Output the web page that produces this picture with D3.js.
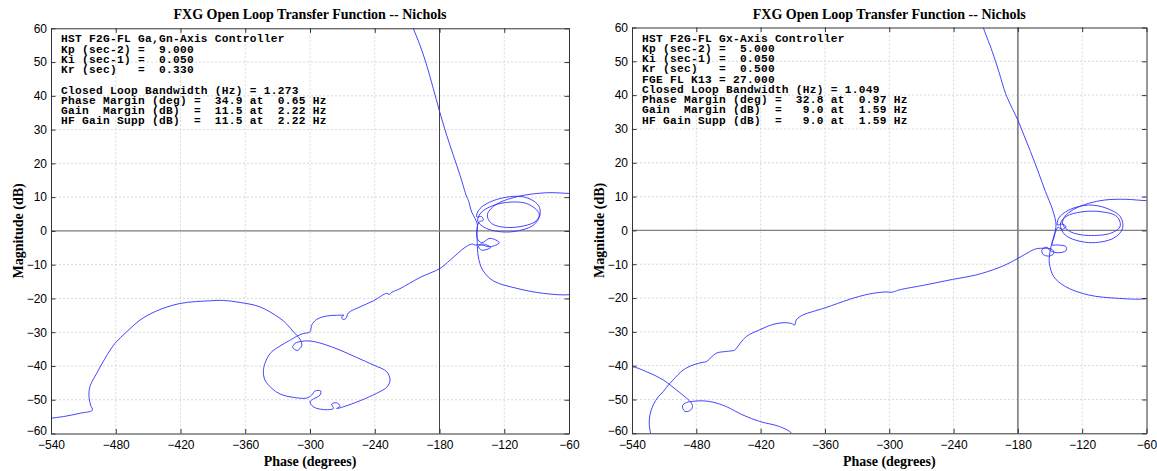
<!DOCTYPE html>
<html>
<head>
<meta charset="utf-8">
<script src="https://cdn.jsdelivr.net/npm/d3@7"></script>
<style>
  body { margin: 0; background: #fff; }
  .ticklabel text { font-family: "Liberation Sans", Arial, sans-serif; font-size: 12px; fill: #000; }
  .title { font-family: "Liberation Serif", "Times New Roman", serif; font-weight: bold; font-size: 14px; fill: #000; }
  .info { font-family: "Liberation Mono", "Courier New", monospace; font-weight: bold; font-size: 11.2px; letter-spacing: 0.28px; fill: #000; white-space: pre; }
</style>
</head>
<body>
<script>

// tick values shared by both plots
var phaseTicks = [-540, -480, -420, -360, -300, -240, -180, -120, -60];
var magTicks = [-60, -50, -40, -30, -20, -10, 0, 10, 20, 30, 40, 50, 60];

var chartTitle = "FXG Open Loop Transfer Function -- Nichols";
var xTitle = "Phase (degrees)";
var yTitle = "Magnitude (dB)";

// text block in the left plot
var leftInfo = [
  "HST F2G-FL Ga,Gn-Axis Controller",
  "Kp (sec-2) =  9.000",
  "Ki (sec-1) =  0.050",
  "Kr (sec)   =  0.330",
  "",
  "Closed Loop Bandwidth (Hz) = 1.273",
  "Phase Margin (deg) =  34.9 at  0.65 Hz",
  "Gain  Margin (dB)  =  11.5 at  2.22 Hz",
  "HF Gain Supp (dB)  =  11.5 at  2.22 Hz"
];

// text block in the right plot
var rightInfo = [
  "HST F2G-FL Gx-Axis Controller",
  "Kp (sec-2) =  5.000",
  "Ki (sec-1) =  0.050",
  "Kr (sec)   =  0.500",
  "FGE FL K13 = 27.000",
  "Closed Loop Bandwidth (Hz) = 1.049",
  "Phase Margin (deg) =  32.8 at  0.97 Hz",
  "Gain  Margin (dB)  =   9.0 at  1.59 Hz",
  "HF Gain Supp (dB)  =   9.0 at  1.59 Hz"
];

// [phase (deg), magnitude (dB)]
var leftCurve = [
  [-206.5, 62], [-204.8, 60.4], [-198.1, 55], [-191.9, 49.1], [-185.8, 42.2], [-180.2, 35.7],
  [-173.3, 28.3], [-167.2, 22.4], [-161.0, 16.5], [-154.8, 10.1], [-153.3, 9.1], [-150.2, 5.6],
  [-147.1, 3.7], [-145.0, 2.0],
  [-145.2, -0.8], [-145.0, -3.7], [-144.0, -7.7], [-140.0, -11.6], [-130.1, -14.8], [-108.5, -17.0],
  [-83.8, -18.5], [-59.1, -18.9],
  [-45, -18], [-35, -12], [-30, 0], [-38, 9], [-50, 11.2],
  [-59.1, 11.1], [-80.7, 11.3], [-108.5, 10.1], [-128.6, 7.6], [-135.7, 4.7], [-131.7, 2.2],
  [-114.7, 1.0], [-91.5, 2.7], [-87.5, 5.0], [-99.2, 8.1], [-124.0, 8.1], [-140.9, 5.6],
  [-144.6, 3.0], [-136.3, 0.7], [-114.7, -0.3], [-93.0, 1.7], [-86.9, 4.7], [-88.4, 7.6],
  [-102.3, 10.1], [-127.0, 9.3], [-142.5, 6.6], [-145.6, 4.2], [-140.9, 4.2], [-139.4, 3.2],
  [-143.1, 2.7], [-145.0, 1.2], [-145.0, -2.2], [-140.9, -3.5], [-133.2, -2.2], [-124.6, -3.5],
  [-133.2, -4.7], [-140.9, -4.2], [-144.0, -4.5], [-140.9, -5.7], [-132.6, -4.9], [-139.4, -3.9],
  [-146.2, -4.2], [-150.2, -3.9], [-156.4, -4.9], [-170.3, -8.7], [-179.5, -11.1], [-198.1, -13.8],
  [-216.6, -17.1], [-224.3, -18.2], [-226.5, -18.8], [-229.0, -18.5], [-241.3, -20.7], [-253.6, -22.5],
  [-264.5, -24.3], [-266.6, -25.9], [-269.7, -26.2], [-270.6, -25.4], [-268.5, -25.0], [-275.3, -25.0],
  [-284.5, -25.2], [-293.8, -26.2], [-298.4, -27.9], [-300.0, -29.9], [-306.2, -30.4], [-312.3, -31.2],
  [-317.0, -32.1], [-326.2, -33.8], [-336.4, -36.1], [-341.7, -39.2], [-343.2, -41.7], [-341.7, -44.2],
  [-335.5, -46.6], [-327.8, -48.3], [-315.4, -49.3], [-303.1, -49.5], [-298.4, -48.6], [-295.3, -47.4],
  [-290.1, -47.4], [-290.7, -48.6], [-296.9, -49.8], [-300.0, -50.6], [-296.9, -52.1], [-287.6, -52.9],
  [-278.3, -52.6], [-279.9, -51.3], [-275.3, -50.9], [-272.2, -51.9], [-275.3, -52.6], [-269.1, -52.1],
  [-253.6, -50.3], [-238.2, -48.1], [-228.9, -46.3], [-225.8, -44.2], [-228.9, -41.7], [-241.3, -39.7],
  [-256.7, -37.5], [-272.2, -35.3], [-287.6, -33.5], [-300.0, -32.6], [-307.7, -32.7], [-313.9, -33.3],
  [-316.0, -34.5], [-311.7, -35.4], [-307.7, -34.0], [-309.2, -32.1], [-313.9, -30.4], [-321.6, -27.6],
  [-327.8, -25.9], [-346.3, -22.5], [-364.8, -21.2], [-380, -20.6], [-392.7, -20.7], [-420.5, -21.5],
  [-442.1, -23.7], [-457.5, -26.4], [-469.9, -29.9], [-480.7, -33.3], [-490.0, -37.8], [-497.7, -42.2],
  [-503.9, -46.1], [-504.8, -49.1], [-503.3, -51.6], [-501.7, -53.1], [-513.1, -54.0], [-528.6, -55.0],
  [-540.9, -55.5], [-550, -55.9]
];

// [phase (deg), magnitude (dB)]
var rightCurve = [
  [-213.5, 62], [-212.6, 60.4], [-203.9, 52.9], [-197.7, 46.9], [-191.5, 40.5], [-185.3, 36.1],
  [-180.0, 32.6], [-174.4, 28.2], [-168.2, 23.3], [-160.5, 16.9], [-154.3, 11.5], [-147.5, 6.0],
  [-144.4, 1.6],
  [-146.2, -1.4], [-148.7, -4.3], [-150.3, -6.8], [-150.6, -9.7], [-146.5, -13.7], [-135.7, -16.6],
  [-114.0, -19.1], [-86.1, -20.1], [-59.7, -20.2],
  [-45, -19], [-35, -12], [-30, 0], [-38, 7], [-50, 8.9],
  [-59.7, 8.8], [-79.9, 9.2], [-98.5, 9.0], [-114.0, 8.0], [-127.9, 6.2], [-136.3, 4.1],
  [-138.2, 1.9], [-131.0, -0.4], [-114.0, -1.5], [-92.3, -0.7], [-84.5, 1.3], [-87.6, 4.1],
  [-101.6, 5.5], [-120.2, 5.5], [-135.1, 4.1], [-140.3, 1.9], [-135.7, -1.4], [-114.0, -3.6],
  [-90.7, -2.3], [-82.3, 0.6], [-84.5, 4.1], [-96.9, 6.5], [-114.0, 7.5], [-132.6, 6.0],
  [-141.9, 3.6], [-143.1, 1.6], [-138.8, 1.9], [-135.1, 1.1], [-138.8, 0.3], [-142.5, 0.9],
  [-144.4, -0.1], [-146.5, -2.3], [-148.1, -4.3], [-143.4, -4.3], [-135.1, -4.8], [-135.1, -6.0],
  [-143.4, -6.6], [-150.6, -5.8], [-152.7, -5.0], [-157.4, -5.6], [-156.8, -7.0], [-151.2, -7.6],
  [-146.5, -6.8], [-148.1, -5.6], [-154.3, -5.3], [-163.6, -5.5], [-172.9, -7.0], [-185.3, -9.2],
  [-197.6, -11.0], [-219.3, -13.2], [-241.1, -14.5], [-265.9, -16.1], [-290.7, -17.6], [-295.3, -18.1],
  [-298.4, -18.3], [-303.1, -18.2], [-318.6, -18.8], [-337.2, -20.4], [-358.9, -22.8], [-371.3, -24.0],
  [-380.6, -25.0], [-386.8, -26.5], [-388.3, -28.0], [-391.4, -27.5], [-399.2, -27.3], [-408.5, -27.8],
  [-420.9, -29.4], [-433.4, -31.4], [-442.7, -34.9], [-444, -35.4], [-452.0, -35.8], [-461.3, -36.3],
  [-470.6, -38.8], [-473.7, -39.0], [-483.0, -39.8], [-492.3, -41.3], [-501.6, -44.2], [-507.8, -46.4],
  [-510.9, -47.7], [-515.5, -49.2], [-520.2, -51.6], [-523.3, -54.6], [-523.9, -57.5], [-522.7, -60.0],
  [-522, -62], [-535, -64], [-555, -55], [-552, -41],
  [-540.3, -40.3], [-526.4, -41.8], [-510.9, -44.2], [-498.5, -47.2], [-489.2, -49.6], [-484.5, -51.1],
  [-483.6, -52.3], [-486.1, -53.3], [-490.7, -53.5], [-492.9, -51.9], [-489.2, -50.9], [-481.4, -50.5],
  [-473.7, -50.4], [-464.4, -50.8], [-452.0, -52.1], [-436.5, -54.6], [-420.9, -56.5], [-402.4, -58.0],
  [-391, -60], [-389, -62]
];

var svg = d3.select("body")
            .append("svg")
            .attr("width", 1157)
            .attr("height", 471);

function drawnichols(id, curve, info, box)
{
  var x = d3.scaleLinear().domain([-540, -60]).range([box.left, box.right]);
  var y = d3.scaleLinear().domain([-60, 60]).range([box.bottom, box.top]);

  var g = svg.append("g").attr("class", "nichols-" + id);

  // clip the curve to the plot box
  svg.append("clipPath")
      .attr("id", "clip-" + id)
    .append("rect")
      .attr("x", box.left)
      .attr("y", box.top)
      .attr("width", box.right - box.left)
      .attr("height", box.bottom - box.top);

  // dotted grid
  g.append("g").selectAll("line")
      .data(phaseTicks.slice(1, -1))
    .enter().append("line")
      .attr("x1", function(d) { return x(d); })
      .attr("x2", function(d) { return x(d); })
      .attr("y1", box.top)
      .attr("y2", box.bottom)
      .style("stroke", "#cfcfcf")
      .style("stroke-width", 0.8)
      .style("stroke-dasharray", "2,2");

  g.append("g").selectAll("line")
      .data(magTicks.slice(1, -1))
    .enter().append("line")
      .attr("x1", box.left)
      .attr("x2", box.right)
      .attr("y1", function(d) { return y(d); })
      .attr("y2", function(d) { return y(d); })
      .style("stroke", "#cfcfcf")
      .style("stroke-width", 0.8)
      .style("stroke-dasharray", "2,2");

  // -180 deg / 0 dB reference lines
  g.append("line")
      .attr("x1", x(-180)).attr("x2", x(-180))
      .attr("y1", box.top).attr("y2", box.bottom)
      .style("stroke", box.vcolor)
      .style("stroke-width", box.vwidth);

  g.append("line")
      .attr("x1", box.left).attr("x2", box.right)
      .attr("y1", y(0)).attr("y2", y(0))
      .style("stroke", "#808080")
      .style("stroke-width", 1.2);

  // the open loop curve
  var line = d3.line()
      .x(function(d) { return x(d[0]); })
      .y(function(d) { return y(d[1]); })
      .curve(d3.curveCatmullRom.alpha(0.5));

  g.append("path")
      .datum(curve)
      .attr("clip-path", "url(#clip-" + id + ")")
      .attr("d", line)
      .style("fill", "none")
      .style("stroke", "#3030ff")
      .style("stroke-width", 0.9);

  // box with inward ticks on all sides
  g.append("g")
      .attr("class", "ticklabel")
      .attr("transform", "translate(0," + box.bottom + ")")
      .attr("color", "#333")
      .call(d3.axisBottom(x).tickValues(phaseTicks).tickSize(-4.5).tickSizeOuter(0).tickPadding(7));

  g.append("g")
      .attr("transform", "translate(0," + box.top + ")")
      .attr("color", "#333")
      .call(d3.axisTop(x).tickValues(phaseTicks).tickSize(-4.5).tickSizeOuter(0).tickFormat(""));

  var yaxis = g.append("g")
      .attr("class", "ticklabel")
      .attr("transform", "translate(" + box.left + ",0)")
      .attr("color", "#333")
      .call(d3.axisLeft(y).tickValues(magTicks).tickSize(-4.5).tickSizeOuter(0).tickPadding(4));

  // lift the bottom label a little so it clears the -540 label
  yaxis.selectAll(".tick text")
      .filter(function(d) { return d === -60; })
      .attr("dy", "0.1em");

  g.append("g")
      .attr("transform", "translate(" + box.right + ",0)")
      .attr("color", "#333")
      .call(d3.axisRight(y).tickValues(magTicks).tickSize(-4.5).tickSizeOuter(0).tickFormat(""));

  g.selectAll(".ticklabel text").style("fill", "#000");

  // titles
  var cx = (box.left + box.right) / 2;
  g.append("text")
      .attr("class", "title")
      .attr("x", cx)
      .attr("y", 19)
      .attr("text-anchor", "middle")
      .text(chartTitle);

  g.append("text")
      .attr("class", "title")
      .attr("x", cx)
      .attr("y", 466)
      .attr("text-anchor", "middle")
      .text(xTitle);

  g.append("text")
      .attr("class", "title")
      .attr("transform", "translate(" + (box.left - 28) + "," + ((box.top + box.bottom) / 2) + ") rotate(-90)")
      .attr("text-anchor", "middle")
      .text(yTitle);

  // controller info block, one text with a tspan per line
  g.append("text")
      .attr("class", "info")
    .selectAll("tspan")
      .data(info)
    .enter().append("tspan")
      .attr("x", box.left + 10)
      .attr("y", function(d, i) { return box.top + 14 + i * 10.25; })
      .text(function(d) { return d; });
}

drawnichols("left", leftCurve, leftInfo,
  { left: 51, right: 569, top: 28.3, bottom: 433.5, vcolor: "#444", vwidth: 1 });
drawnichols("right", rightCurve, rightInfo,
  { left: 632, right: 1146.5, top: 27.5, bottom: 433.3, vcolor: "#8a8a8a", vwidth: 1.8 });

</script>
</body>
</html>
